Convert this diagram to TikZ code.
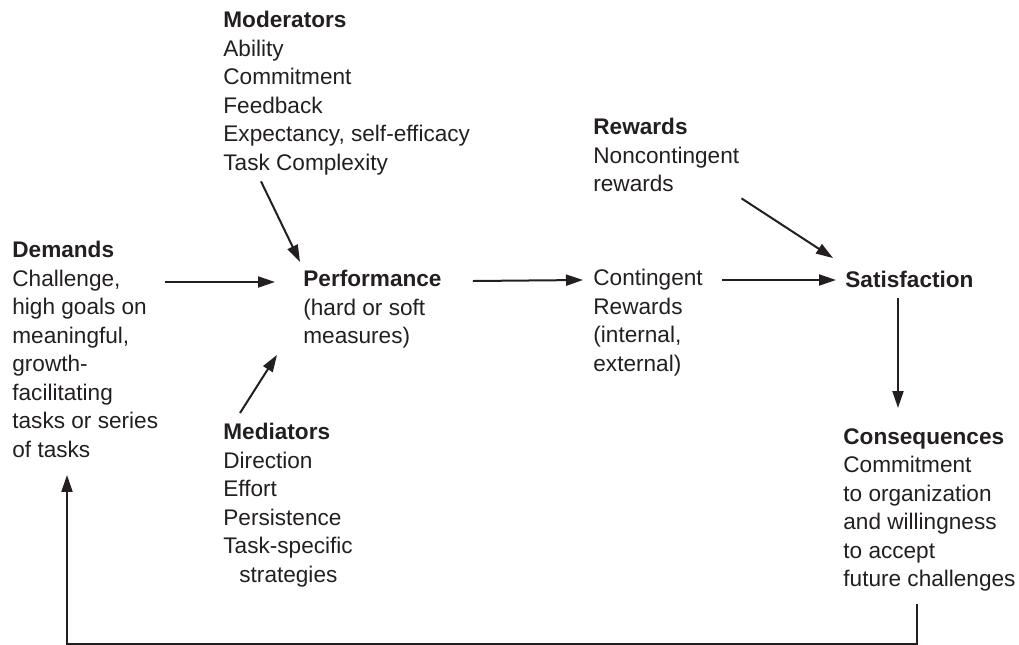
\documentclass[tikz,border=0pt]{standalone}
\usepackage{fontspec}
\setmainfont{Liberation Sans}
\usepackage{tikz}
\usetikzlibrary{arrows.meta,positioning}
\definecolor{ink}{RGB}{35,31,32}

\begin{document}
\begin{tikzpicture}[x=0.5pt, y=-0.5pt,
    block/.style={align=left, anchor=north west, inner sep=0pt, text=ink,
        font=\fontsize{11.3}{14.25}\selectfont},
    flow/.style={-{Triangle[length=8.5pt,width=5.5pt]}, line width=1pt, ink}]
    \useasboundingbox (0,0) rectangle (1019,644);

    % Text blocks
    \node[block] (mod) at (223,11) {\textbf{Moderators}\\Ability\\Commitment\\Feedback\\Expectancy, self-efficacy\\Task Complexity};
    \node[block] (dem) at (12,241) {\textbf{Demands}\\Challenge,\\high goals on\\meaningful,\\growth-\\facilitating\\tasks or series\\of tasks};
    \node[block] (perf) at (303,270) {\textbf{Performance}\\(hard or soft\\measures)};
    \node[block] (med) at (223,423) {\textbf{Mediators}\\Direction\\Effort\\Persistence\\Task-specific\\\hspace*{8pt}strategies};
    \node[block] (cont) at (593,269) {Contingent\\Rewards\\(internal,\\external)};
    \node[block] (rew) at (593,118) {\textbf{Rewards}\\Noncontingent\\rewards};
    \node[block] (sat) at (845,271) {\textbf{Satisfaction}};
    \node[block] (cons) at (843,428) {\textbf{Consequences}\\Commitment\\to organization\\and willingness\\to accept\\future challenges};

    % Arrows into performance
    \draw[flow] ([xshift=19pt,yshift=-3pt]mod.south west) -- ([xshift=-1.5pt,yshift=4pt]perf.north west);
    \draw[flow] ([xshift=3.5pt,yshift=-6pt]dem.east |- perf.north west) -- ([xshift=-14pt,yshift=-6pt]perf.north west);
    \draw[flow] ([xshift=8.5pt,yshift=5pt]med.north west) -- ([xshift=-13pt,yshift=-3pt]perf.south west);

    % Rewards and satisfaction
    \draw[flow] ([xshift=15.5pt,yshift=-5.5pt]perf.north east) -- ([xshift=-5pt,yshift=-5.5pt]cont.north west);
    \draw[flow] ([xshift=9.5pt,yshift=-5.5pt]cont.north east) -- ([xshift=-4.5pt,yshift=-4.5pt]sat.north west);
    \draw[flow] ([xshift=1pt,yshift=-3pt]rew.south east) -- ([xshift=-6pt,yshift=6.5pt]sat.north west);
    \draw[flow] ([xshift=26.5pt,yshift=-5pt]sat.south west) -- ([xshift=27.5pt,yshift=10pt]cons.north west);

    % Feedback loop
    \draw[flow] ([xshift=37pt,yshift=-6pt]cons.south west) -- ++(0,40) -| ([xshift=27.5pt,yshift=-8.5pt]dem.south west);
\end{tikzpicture}
\end{document}
